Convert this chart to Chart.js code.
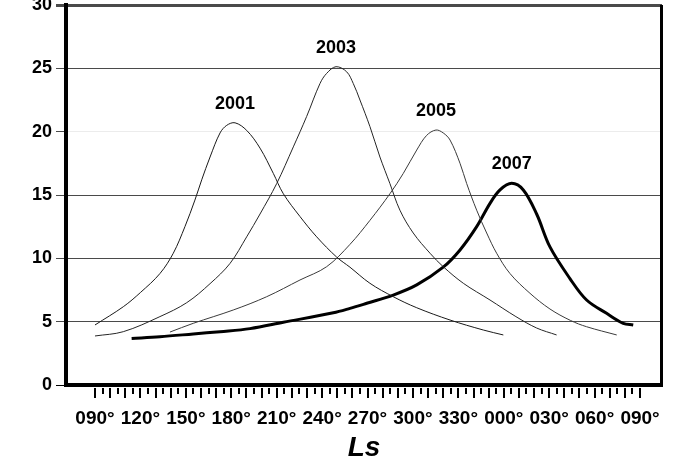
<!DOCTYPE html>
<html><head><meta charset="utf-8">
<script src="https://cdn.jsdelivr.net/npm/chart.js@4"></script>
<style>html,body{margin:0;padding:0;background:#fff}#wrap{width:674px;height:464px}</style>
</head><body><div id="wrap"><canvas id="c" width="674" height="464"></canvas></div>
<script>
// Series names
const seriesNames = ['2001', '2003', '2005', '2007'];
// Ls (unwrapped degrees, 90..450) and values for each year
const ls2001 = [90, 108.7, 120, 132.9, 141.7, 149.4, 156.0, 160.5, 166.0, 172.6, 177, 182.5, 190.2, 199.0, 207.8, 214.4, 225.4, 236.4, 249.6, 258.4, 271.6, 287.0, 302.5, 324.5, 346.5, 359.7];
const v2001  = [4.74, 6.18, 7.3, 8.8, 10.4, 12.5, 14.6, 16.2, 18.0, 19.9, 20.5, 20.7, 20.1, 18.7, 16.7, 15.1, 13.3, 11.7, 10.1, 9.3, 8.03, 6.97, 6.1, 5.13, 4.34, 3.95];
const ls2003 = [90, 108.7, 132.9, 150.6, 166.0, 179.2, 190.2, 199.0, 210.0, 221.0, 229.8, 238.6, 243.0, 249.2, 256.2, 260.6, 265.0, 271.6, 278.2, 284.8, 291.4, 300.2, 311.3, 320.0, 333.3, 350.9, 368.0, 381.7, 394.9];
const v2003  = [3.87, 4.21, 5.4, 6.5, 8.0, 9.6, 11.7, 13.5, 15.9, 18.8, 21.2, 23.8, 24.6, 25.13, 24.73, 23.8, 22.5, 20.4, 18.0, 15.9, 13.8, 12.0, 10.4, 9.34, 8.03, 6.71, 5.4, 4.5, 3.95];
const ls2005 = [139.5, 154.9, 181.3, 203.4, 225.4, 243.0, 258.4, 271.6, 284.8, 293.6, 302.5, 309.0, 315.2, 320.0, 324.5, 331.1, 335.5, 342.1, 348.7, 355.3, 364.1, 377.3, 390.5, 404.0, 414.7, 434.6];
const v2005  = [4.18, 4.87, 5.92, 6.97, 8.29, 9.34, 11.1, 13.0, 15.1, 16.7, 18.55, 19.7, 20.13, 19.9, 19.34, 17.5, 15.9, 13.8, 12.0, 10.4, 8.8, 7.24, 6.0, 5.1, 4.6, 3.95];
const ls2007 = [114.2, 132.9, 154.9, 172.6, 192.4, 214.4, 247.4, 258.4, 269.5, 287.0, 302.5, 320.0, 331.1, 342.1, 350.9, 357.5, 365.2, 372.9, 381.7, 390.5, 403.7, 414.7, 427.9, 438.9, 445.5];
const v2007  = [3.67, 3.81, 4.03, 4.21, 4.45, 4.95, 5.7, 6.05, 6.45, 7.1, 7.9, 9.3, 10.66, 12.5, 14.34, 15.4, 15.92, 15.4, 13.5, 10.9, 8.4, 6.71, 5.66, 4.87, 4.74];
// Axis ticks
const yTickValues = [0, 5, 10, 15, 20, 25, 30];
const xTickLabels = ['090°', '120°', '150°', '180°', '210°', '240°', '270°', '300°', '330°', '000°', '030°', '060°', '090°'];
const xTickStart = 90, xTickEnd = 450, xMinorStep = 5, xLabelStep = 30;

const seriesLs = [ls2001, ls2003, ls2005, ls2007];
const seriesV = [v2001, v2003, v2005, v2007];
const seriesColor = ['#1a1a1a', '#262626', '#3a3a3a', '#000'];
const seriesWidth = [1, 1, 1, 3];

const xTickValues = [];
for (let v = xTickStart; v <= xTickEnd; v += xMinorStep) xTickValues.push(v);

const datasets = seriesNames.map((n, i) => ({
  label: n,
  data: seriesLs[i].map((x, j) => ({ x: x, y: seriesV[i][j] })),
  borderColor: seriesColor[i],
  borderWidth: seriesWidth[i],
  pointRadius: 0,
  fill: false,
  tension: 0.35
}));

const tickFont = { family: "'Liberation Sans', Arial, sans-serif", size: 19, weight: 'bold' };
const yFont = { family: "'Liberation Sans', Arial, sans-serif", size: 18, weight: 'bold' };

const framePlugin = {
  id: 'frame',
  afterDraw(chart) {
    const ctx = chart.ctx, a = chart.chartArea;
    ctx.save();
    ctx.strokeStyle = '#000';
    ctx.lineWidth = 3;
    ctx.beginPath();
    ctx.moveTo(a.right - 0.5, a.top);
    ctx.lineTo(a.right - 0.5, a.bottom);
    ctx.stroke();
    // x tick marks (long at every 10°, short at 5°)
    const xs = chart.scales.x;
    ctx.lineWidth = 2;
    xs.ticks.forEach(t => {
      const px = Math.round(xs.getPixelForValue(t.value));
      const long = (t.value % 10) === 0;
      ctx.beginPath();
      ctx.moveTo(px, a.bottom + 3);
      ctx.lineTo(px, a.bottom + 3 + (long ? 10 : 6));
      ctx.stroke();
    });
    // year labels above each peak
    ctx.fillStyle = '#000';
    ctx.font = "bold 18px 'Liberation Sans', Arial, sans-serif";
    ctx.textAlign = 'center';
    ctx.textBaseline = 'middle';
    chart.data.datasets.forEach((ds, i) => {
      const meta = chart.getDatasetMeta(i);
      let k = 0;
      ds.data.forEach((p, j) => { if (p.y > ds.data[k].y) k = j; });
      const el = meta.data[k];
      ctx.fillText(ds.label, el.x, el.y - 19);
    });
    ctx.restore();
  }
};

new Chart(document.getElementById('c'), {
  type: 'line',
  data: { datasets: datasets },
  options: {
    responsive: false,
    animation: false,
    devicePixelRatio: 1,
    layout: { padding: { top: 5, right: 12, left: 0, bottom: 0 } },
    plugins: { legend: { display: false }, tooltip: { enabled: false } },
    scales: {
      x: {
        type: 'linear',
        min: 70.85,
        max: 464.5,
        afterBuildTicks: s => { s.ticks = xTickValues.map(v => ({ value: v })); },
        afterFit: s => { s.height = 79; s.paddingLeft = 0; s.paddingRight = 0; },
        grid: { display: false, drawTicks: false },
        border: { display: true, color: '#000', width: 4 },
        ticks: {
          autoSkip: false, maxRotation: 0, minRotation: 0, padding: 22,
          color: '#000', font: tickFont,
          callback: v => ((v - xTickStart) % xLabelStep === 0) ? xTickLabels[(v - xTickStart) / xLabelStep] : ''
        },
        title: {
          display: true, text: 'Ls', color: '#000',
          font: { family: "'Liberation Sans', Arial, sans-serif", size: 28, weight: 'bold', style: 'italic', lineHeight: 1 },
          padding: { top: 0, bottom: 2 }
        }
      },
      y: {
        min: 0, max: 30,
        afterBuildTicks: s => { s.ticks = yTickValues.map(v => ({ value: v })); },
        afterFit: s => { s.width = 66; s.paddingTop = 0; s.paddingBottom = 0; },
        grid: {
          color: c => c.tick.value === 20 ? '#ececec' : (c.tick.value === 0 ? '#000' : '#4a4a4a'),
          lineWidth: c => c.tick.value === 30 ? 3 : 1,
          tickLength: 10,
          tickColor: c => c.tick.value === 0 ? '#000' : '#4a4a4a'
        },
        border: { display: true, color: '#000', width: 4 },
        ticks: { padding: 4, color: '#000', font: yFont }
      }
    }
  },
  plugins: [framePlugin]
});
</script>
</body></html>
